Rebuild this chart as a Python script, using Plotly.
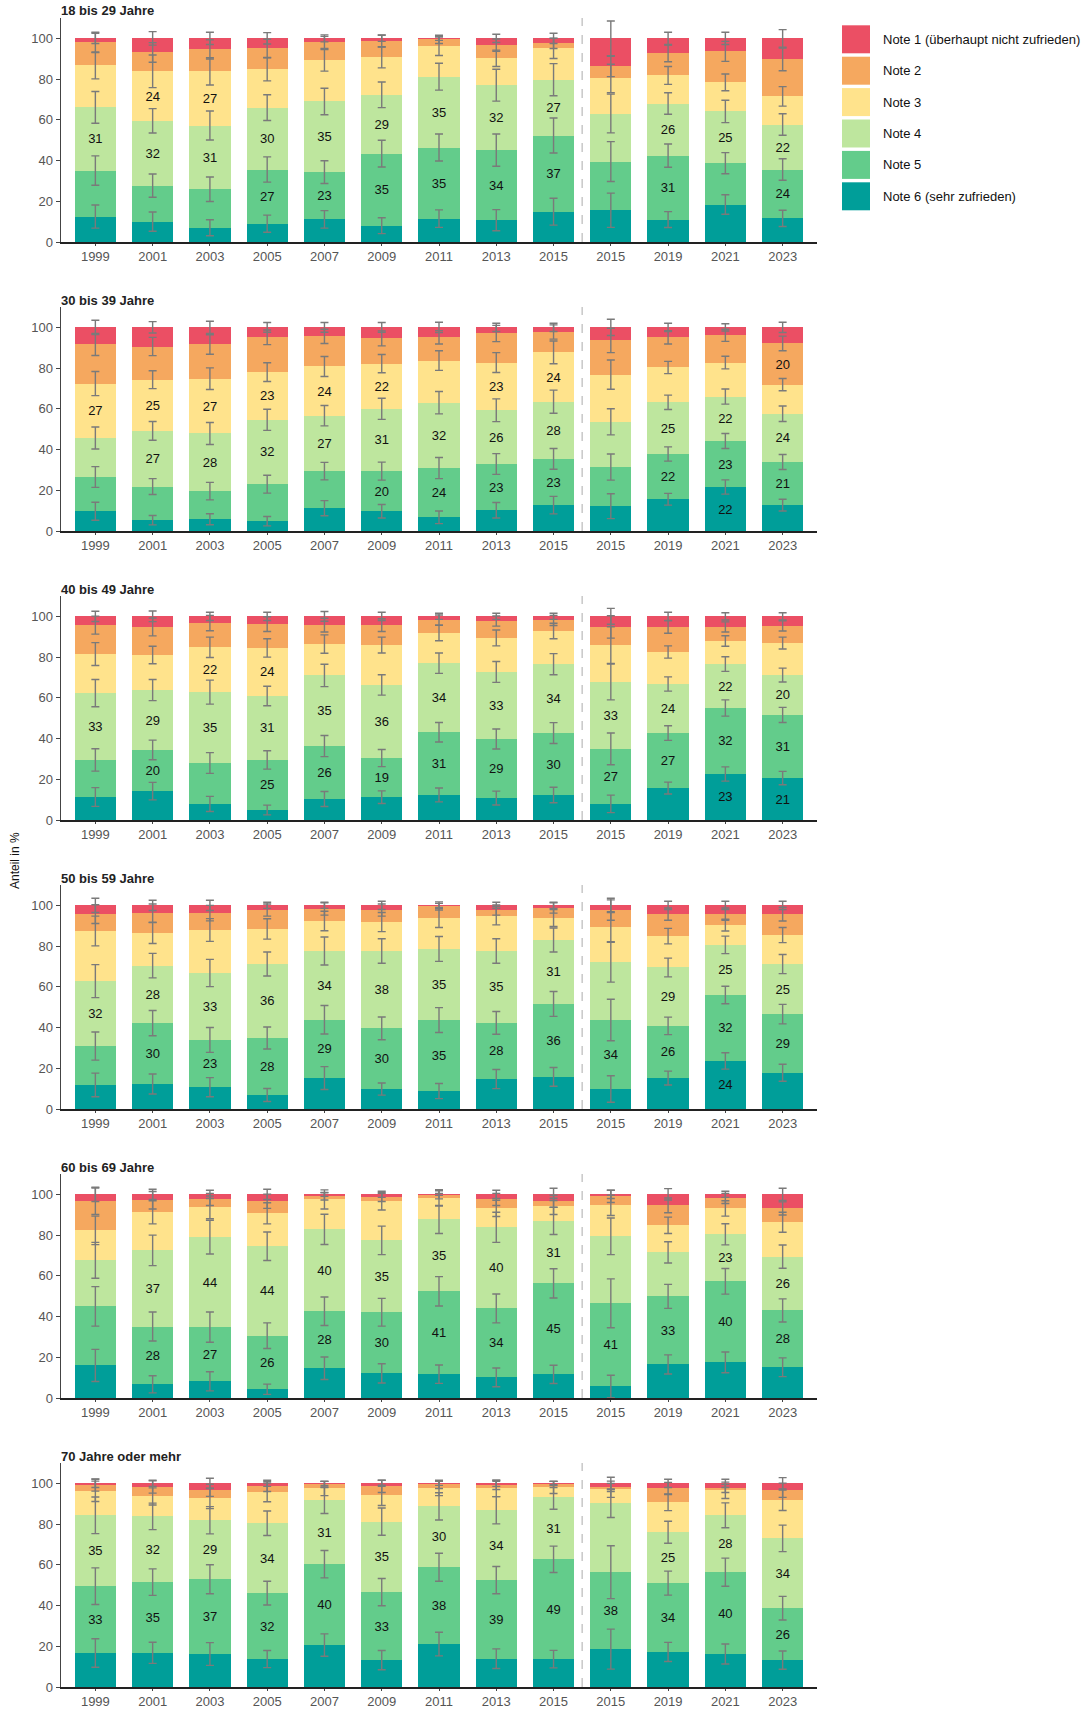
import math
import plotly.graph_objects as go

# ---------------- data ----------------
years = ["1999", "2001", "2003", "2005", "2007", "2009", "2011", "2013",
         "2015", "2015", "2019", "2021", "2023"]
# stacking order bottom -> top
notes = ["Note 6 (sehr zufrieden)", "Note 5", "Note 4", "Note 3", "Note 2",
         "Note 1 (überhaupt nicht zufrieden)"]
note_numbers = ["6", "5", "4", "3", "2", "1"]
colors = ["#009E99", "#63CC8B", "#BEE69E", "#FFE38C", "#F5A85F", "#EB4F64"]
panel_titles = ["18 bis 29 Jahre", "30 bis 39 Jahre", "40 bis 49 Jahre",
                "50 bis 59 Jahre", "60 bis 69 Jahre", "70 Jahre oder mehr"]

# shares in %, one row per survey, columns: Note 6, 5, 4, 3, 2, 1
shares_18_29 = [
    [12.5, 22.6, 31.0, 20.6, 11.3, 2.0],
    [10.0, 17.7, 31.8, 24.3, 9.3, 6.9],
    [7.0, 18.9, 31.3, 26.6, 10.8, 5.4],
    [9.0, 26.6, 30.4, 18.8, 10.3, 4.9],
    [11.1, 23.2, 34.7, 20.2, 8.8, 2.0],
    [8.0, 35.4, 28.9, 18.4, 8.0, 1.3],
    [11.5, 34.9, 34.8, 14.9, 3.4, 0.5],
    [10.7, 34.4, 31.9, 13.2, 6.5, 3.3],
    [14.9, 37.4, 27.4, 15.4, 2.4, 2.5],
    [15.6, 23.9, 23.6, 17.2, 5.9, 13.8],
    [11.0, 31.4, 25.6, 13.8, 10.8, 7.4],
    [18.4, 20.3, 25.4, 14.3, 15.2, 6.4],
    [11.6, 24.0, 22.1, 13.8, 18.2, 10.3],
]
shares_30_39 = [
    [9.7, 16.8, 19.2, 26.7, 19.2, 8.4],
    [5.3, 16.5, 27.4, 25.1, 16.3, 9.4],
    [5.8, 13.8, 28.3, 26.9, 16.8, 8.4],
    [4.8, 18.2, 31.6, 23.4, 17.1, 4.9],
    [11.2, 18.2, 27.2, 24.2, 14.8, 4.4],
    [9.7, 19.7, 30.6, 22.2, 12.4, 5.4],
    [6.7, 24.2, 32.1, 20.7, 11.4, 4.9],
    [10.2, 22.7, 26.4, 23.4, 14.3, 3.0],
    [12.7, 22.7, 28.1, 24.2, 10.0, 2.3],
    [12.2, 19.2, 22.2, 23.2, 16.8, 6.4],
    [15.6, 22.2, 25.4, 17.1, 14.8, 4.9],
    [21.6, 22.6, 21.8, 16.7, 13.4, 3.9],
    [12.7, 21.2, 23.7, 14.3, 20.2, 7.9],
]
shares_40_49 = [
    [11.3, 18.2, 32.8, 19.2, 14.2, 4.3],
    [14.2, 20.2, 29.4, 17.2, 13.8, 5.2],
    [7.9, 20.1, 34.8, 22.0, 11.9, 3.3],
    [4.9, 24.6, 31.4, 23.6, 11.7, 3.8],
    [10.3, 26.0, 34.7, 15.4, 9.3, 4.3],
    [11.2, 19.2, 35.9, 19.6, 9.8, 4.3],
    [12.3, 30.8, 33.9, 14.8, 6.4, 1.8],
    [10.8, 29.0, 32.9, 16.7, 8.3, 2.3],
    [12.3, 30.4, 33.8, 16.3, 5.2, 2.0],
    [7.9, 27.0, 32.9, 18.1, 8.9, 5.2],
    [15.7, 27.0, 24.1, 15.7, 12.3, 5.2],
    [22.6, 32.4, 21.6, 11.3, 6.9, 5.2],
    [20.6, 31.0, 19.6, 15.7, 8.4, 4.7],
]
shares_50_59 = [
    [11.8, 19.1, 31.9, 24.6, 8.3, 4.3],
    [12.3, 29.9, 28.2, 16.0, 9.8, 3.8],
    [10.7, 23.2, 32.9, 21.1, 8.3, 3.8],
    [6.9, 28.0, 36.3, 17.2, 9.3, 2.3],
    [15.2, 28.6, 33.8, 14.7, 5.9, 1.8],
    [9.8, 29.8, 38.0, 14.2, 5.9, 2.3],
    [8.8, 34.9, 34.9, 15.2, 5.9, 0.3],
    [14.7, 27.6, 35.3, 17.3, 2.8, 2.3],
    [15.8, 35.8, 31.4, 10.8, 4.9, 1.3],
    [9.8, 33.9, 28.5, 17.2, 8.3, 2.3],
    [15.2, 25.6, 28.7, 15.4, 10.8, 4.3],
    [23.6, 32.4, 24.6, 9.7, 5.4, 4.3],
    [17.8, 28.8, 24.6, 14.2, 10.3, 4.3],
]
shares_60_69 = [
    [16.0, 29.0, 22.6, 14.7, 14.3, 3.4],
    [6.7, 28.4, 37.4, 18.7, 5.9, 2.9],
    [8.2, 26.6, 44.2, 14.6, 3.9, 2.5],
    [4.3, 26.3, 43.9, 16.2, 5.9, 3.4],
    [14.6, 28.0, 40.2, 14.7, 1.5, 1.0],
    [12.1, 30.0, 35.3, 19.2, 1.9, 1.5],
    [11.7, 40.7, 35.3, 10.6, 1.5, 0.2],
    [10.1, 33.9, 39.8, 9.3, 4.4, 2.5],
    [11.6, 44.7, 30.7, 7.1, 2.5, 3.4],
    [5.7, 40.8, 32.9, 15.2, 4.4, 1.0],
    [16.5, 33.4, 21.6, 13.3, 9.8, 5.4],
    [17.5, 39.8, 23.1, 12.7, 4.9, 2.0],
    [15.1, 27.9, 26.4, 16.9, 6.8, 6.9],
]
shares_70_plus = [
    [16.7, 32.8, 34.8, 11.8, 3.1, 0.8],
    [16.8, 34.7, 32.3, 9.8, 4.6, 1.8],
    [16.2, 36.7, 29.0, 10.7, 4.0, 3.4],
    [13.7, 32.4, 34.3, 15.2, 2.9, 1.5],
    [20.6, 39.7, 31.4, 5.8, 2.0, 0.5],
    [13.2, 33.4, 34.6, 12.9, 4.4, 1.5],
    [21.1, 37.7, 29.9, 8.8, 2.0, 0.5],
    [13.9, 38.6, 34.3, 10.7, 1.5, 1.0],
    [13.7, 49.0, 30.6, 4.7, 1.5, 0.5],
    [18.6, 37.8, 33.8, 6.9, 0.9, 2.0],
    [17.2, 33.8, 25.0, 14.7, 6.8, 2.5],
    [16.2, 40.2, 27.9, 12.3, 0.9, 2.5],
    [13.2, 25.5, 34.3, 18.7, 4.9, 3.4],
]

# error half-widths (percentage points), same layout
err_18_29 = [
    [5.7, 7.2, 7.8, 6.6, 5.0, 2.5], [4.7, 5.7, 6.0, 8.0, 4.8, 3.3],
    [3.9, 6.0, 7.1, 6.7, 4.7, 3.0], [4.2, 6.2, 6.3, 5.7, 4.5, 2.8],
    [4.3, 5.6, 6.5, 5.3, 3.0, 1.7], [3.9, 6.6, 6.3, 5.2, 3.0, 1.5],
    [4.3, 6.6, 6.6, 4.5, 2.0, 1.0], [5.2, 7.9, 7.8, 4.0, 3.0, 2.0],
    [6.6, 8.6, 7.9, 5.0, 2.5, 2.5], [8.4, 9.8, 9.5, 7.0, 5.0, 8.5],
    [3.9, 5.7, 5.3, 4.4, 4.1, 3.0], [4.8, 5.2, 5.5, 4.1, 4.9, 3.0],
    [4.0, 5.3, 5.3, 4.8, 5.6, 4.3],
]
err_30_39 = [
    [4.4, 5.1, 5.4, 5.9, 5.4, 3.5], [2.3, 3.9, 4.6, 4.4, 4.5, 2.8],
    [2.7, 4.3, 5.4, 5.3, 4.8, 3.0], [2.3, 4.4, 5.2, 4.6, 3.6, 2.4],
    [3.7, 4.3, 5.0, 4.9, 3.5, 2.4], [3.3, 4.4, 5.2, 4.5, 3.7, 2.4],
    [3.1, 5.2, 5.5, 4.8, 3.3, 2.5], [3.8, 5.1, 5.6, 4.9, 4.0, 2.0],
    [4.3, 5.1, 5.7, 5.6, 3.5, 2.0], [6.1, 6.4, 6.4, 7.2, 6.0, 4.0],
    [2.9, 3.5, 3.5, 3.0, 3.3, 2.0], [3.5, 3.7, 3.7, 3.1, 3.0, 1.8],
    [2.9, 3.7, 3.8, 3.0, 3.6, 2.5],
]
err_40_49 = [
    [4.6, 5.5, 6.7, 5.6, 4.4, 2.5], [4.3, 4.8, 5.2, 4.3, 4.4, 2.6],
    [3.7, 5.1, 5.9, 5.0, 3.8, 2.0], [2.4, 4.5, 4.8, 4.5, 3.6, 2.0],
    [3.7, 5.2, 5.5, 4.5, 3.4, 2.4], [3.1, 4.2, 5.0, 3.9, 3.1, 2.0],
    [3.4, 4.8, 5.0, 3.8, 2.5, 1.5], [3.4, 4.9, 5.1, 3.9, 2.5, 1.5],
    [3.8, 5.1, 5.2, 3.8, 2.5, 1.5], [4.3, 7.8, 8.8, 9.0, 5.5, 3.9],
    [2.9, 3.6, 3.5, 3.0, 3.1, 2.0], [3.5, 4.0, 3.6, 2.6, 2.5, 1.8],
    [3.3, 3.7, 3.4, 2.9, 2.5, 1.8],
]
err_50_59 = [
    [5.8, 6.9, 8.1, 7.3, 4.6, 3.5], [4.9, 6.2, 6.0, 5.1, 4.5, 2.5],
    [4.7, 6.1, 6.7, 5.6, 3.8, 2.5], [3.2, 5.4, 5.9, 5.0, 3.0, 1.5],
    [5.6, 7.0, 6.9, 4.8, 3.0, 1.5], [3.0, 5.6, 6.0, 4.7, 3.0, 2.0],
    [3.7, 6.1, 6.1, 4.7, 2.0, 1.0], [4.7, 5.6, 6.0, 4.5, 2.5, 1.5],
    [4.6, 6.1, 5.9, 4.2, 2.5, 1.5], [6.5, 10.2, 9.9, 7.5, 5.0, 3.5],
    [3.4, 4.3, 4.6, 3.8, 3.0, 2.0], [4.0, 4.3, 4.3, 2.9, 3.0, 2.0],
    [4.2, 4.8, 4.7, 3.7, 3.4, 2.0],
]
err_60_69 = [
    [7.9, 9.7, 8.8, 7.0, 6.5, 3.5], [4.2, 7.1, 7.5, 5.7, 4.3, 2.5],
    [4.7, 7.4, 8.3, 5.6, 3.0, 2.0], [2.5, 6.3, 7.0, 5.2, 3.5, 2.5],
    [5.5, 7.0, 7.4, 4.7, 1.8, 1.0], [4.7, 6.8, 7.0, 4.3, 2.0, 1.5],
    [4.5, 7.2, 6.9, 4.0, 2.0, 0.5], [4.6, 7.1, 7.4, 4.0, 3.0, 2.0],
    [4.5, 7.2, 6.7, 4.0, 3.0, 3.0], [5.5, 12.0, 9.0, 5.0, 3.0, 2.0],
    [4.7, 5.9, 5.2, 4.0, 3.6, 2.8], [5.1, 6.3, 5.2, 3.8, 2.5, 1.5],
    [4.6, 5.7, 5.7, 4.9, 3.2, 3.0],
]
err_70_plus = [
    [7.0, 9.0, 9.0, 5.0, 3.0, 2.0], [5.2, 6.5, 6.5, 4.2, 3.0, 1.5],
    [5.6, 7.1, 6.7, 5.0, 3.0, 2.5], [4.2, 5.8, 6.0, 4.6, 2.5, 1.5],
    [5.5, 6.7, 6.5, 3.5, 1.5, 1.0], [4.7, 6.7, 6.7, 5.0, 3.0, 1.5],
    [5.8, 6.9, 6.7, 3.5, 2.0, 1.0], [4.8, 6.7, 6.7, 4.0, 2.0, 1.5],
    [4.3, 6.5, 6.0, 3.0, 1.5, 1.0], [9.8, 13.0, 7.0, 4.0, 2.0, 3.0],
    [4.7, 5.9, 5.4, 4.1, 3.0, 2.0], [4.9, 6.9, 6.1, 4.0, 2.0, 2.0],
    [4.5, 5.8, 6.5, 5.0, 3.5, 2.8],
]

# which notes carry a value label, per survey
labels_18_29 = ["4", "34", "34", "45", "45", "45", "45", "45", "45", "", "45", "4", "45"]
labels_30_39 = ["3", "34", "34", "34", "34", "345", "45", "345", "345", "", "45", "456", "245"]
labels_40_49 = ["4", "45", "34", "345", "45", "45", "45", "45", "45", "45", "45", "456", "456"]
labels_50_59 = ["4", "45", "45", "45", "45", "45", "45", "45", "45", "5", "45", "456", "45"]
labels_60_69 = ["", "45", "45", "45", "45", "45", "45", "45", "45", "5", "5", "45", "45"]
labels_70_plus = ["45", "45", "45", "45", "45", "45", "45", "45", "45", "5", "45", "45", "45"]

panels = [
    (panel_titles[0], shares_18_29, err_18_29, labels_18_29),
    (panel_titles[1], shares_30_39, err_30_39, labels_30_39),
    (panel_titles[2], shares_40_49, err_40_49, labels_40_49),
    (panel_titles[3], shares_50_59, err_50_59, labels_50_59),
    (panel_titles[4], shares_60_69, err_60_69, labels_60_69),
    (panel_titles[5], shares_70_plus, err_70_plus, labels_70_plus),
]

# ---------------- layout geometry ----------------
FONT = "Liberation Sans, Arial, sans-serif"
W, H = 1086, 1710
L, R, T, B = 61, 269, 18, 23
PW, PH = W - L - R, H - T - B
PANEL_H, STEP = 224, 289


def pyp(p):  # pixel (from top) -> paper y
    return 1 - (p - T) / PH


def pxp(p):  # pixel (from left) -> paper x
    return (p - L) / PW


def rnd(v):
    return int(math.floor(v + 0.5))


fig = go.Figure()
layout_axes = {}
annotations = []
shapes = []
xpos = list(range(len(years)))

for i, (title, shares, errs, labs) in enumerate(panels):
    sfx = "" if i == 0 else str(i + 1)
    xa, ya = "x" + sfx, "y" + sfx
    top = T + i * STEP
    cum = [0.0] * len(years)
    for k in range(6):
        vals = [row[k] for row in shares]
        ev = [row[k] for row in errs]
        txt = [str(rnd(v)) if note_numbers[k] in labs[j] else "" for j, v in enumerate(vals)]
        fig.add_trace(go.Bar(
            x=xpos, y=vals, xaxis=xa, yaxis=ya, name=notes[k],
            marker=dict(color=colors[k], line=dict(width=0)),
            text=txt, textposition="inside", insidetextanchor="middle",
            textangle=0, constraintext="none",
            textfont=dict(family=FONT, size=13, color="#111111"),
            showlegend=False, hoverinfo="skip",
        ))
        cum = [c + v for c, v in zip(cum, vals)]
        # confidence interval drawn at the upper edge of each segment
        fig.add_trace(go.Scatter(
            x=xpos, y=list(cum), xaxis=xa, yaxis=ya, mode="markers",
            marker=dict(size=1, opacity=0),
            error_y=dict(type="data", array=ev, visible=True, color="#7a7a7a",
                         thickness=1.4, width=4),
            showlegend=False, hoverinfo="skip",
        ))
    layout_axes["xaxis" + sfx] = dict(
        domain=[0, 1], anchor=ya, range=[-0.6, 12.6],
        tickmode="array", tickvals=xpos, ticktext=years,
        showline=True, linecolor="#222222", linewidth=1.5,
        ticks="outside", ticklen=2, tickcolor="#444444",
        tickfont=dict(family=FONT, size=13, color="#555555"),
        showgrid=False, zeroline=False, fixedrange=True,
    )
    layout_axes["yaxis" + sfx] = dict(
        domain=[pyp(top + PANEL_H), pyp(top)], anchor=xa, range=[0, 110],
        tickmode="array", tickvals=[0, 20, 40, 60, 80, 100],
        showline=True, linecolor="#444444", linewidth=1.5,
        ticks="outside", ticklen=4, tickcolor="#444444",
        tickfont=dict(family=FONT, size=13, color="#555555"),
        showgrid=False, zeroline=False, fixedrange=True,
    )
    annotations.append(dict(
        text="<b>" + title + "</b>", xref="paper", yref="paper",
        x=pxp(59), y=pyp(top - 7), xanchor="left", yanchor="middle",
        showarrow=False, font=dict(family=FONT, size=13, color="#222222"),
    ))
    shapes.append(dict(
        type="line", xref=xa, yref=ya, x0=8.5, x1=8.5, y0=0, y1=110,
        line=dict(color="#c8c8c8", width=1.5, dash="dash"), layer="below",
    ))

# legend drawn manually (large swatches)
legend_order = [5, 4, 3, 2, 1, 0]
for r_i, k in enumerate(legend_order):
    cy = 39.3 + r_i * 31.4
    shapes.append(dict(
        type="rect", xref="paper", yref="paper",
        x0=pxp(842), x1=pxp(870), y0=pyp(cy + 14), y1=pyp(cy - 14),
        fillcolor=colors[k], line=dict(width=0),
    ))
    annotations.append(dict(
        text=notes[k], xref="paper", yref="paper",
        x=pxp(881), y=pyp(cy), xanchor="left", yanchor="middle",
        showarrow=False, font=dict(family=FONT, size=13, color="#111111"),
    ))

annotations.append(dict(
    text="Anteil in %", xref="paper", yref="paper",
    x=pxp(15), y=pyp(861), xanchor="center", yanchor="middle",
    textangle=-90, showarrow=False,
    font=dict(family=FONT, size=12, color="#111111"),
))

fig.update_layout(
    width=W, height=H,
    margin=dict(l=L, r=R, t=T, b=B, autoexpand=False),
    barmode="stack", bargap=0.28,
    plot_bgcolor="white", paper_bgcolor="white",
    font=dict(family=FONT, size=13, color="#222222"),
    annotations=annotations, shapes=shapes,
    showlegend=False,
    **layout_axes,
)

fig.write_html(
    "out.html",
    config={"displayModeBar": False, "staticPlot": True},
    post_script="document.body.style.margin='0';document.body.style.padding='0';"
                "document.documentElement.style.overflow='hidden';",
)
